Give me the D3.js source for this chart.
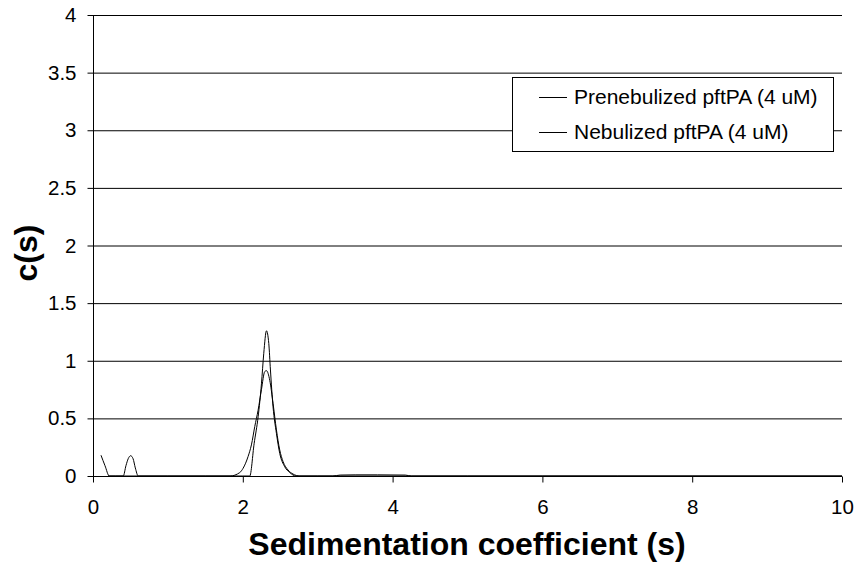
<!DOCTYPE html>
<html><head><meta charset="utf-8">
<script src="https://cdn.jsdelivr.net/npm/d3@7"></script>
<style>body{margin:0;background:#fff}svg{display:block}text{font-family:"Liberation Sans",Arial,sans-serif}</style>
</head><body>
<svg id="c" width="858" height="567"></svg>
<script>
const seriesNames = ["Prenebulized pftPA (4 uM)", "Nebulized pftPA (4 uM)"];
const xTicks = [0, 2, 4, 6, 8, 10];
const yTicks = [0, 0.5, 1, 1.5, 2, 2.5, 3, 3.5, 4];
const preS = [0.107,0.16,0.218,0.3,0.404,0.44,0.47,0.502,0.535,0.565,0.604,1.0,1.5,2.0,2.093,2.151,2.205,2.249,2.28,2.316,2.347,2.369,2.404,2.449,2.493,2.56,2.627,2.71,3.0,5,7,10];
const preC = [0.18,0.09,0.0,0.0,0.0,0.09,0.15,0.176,0.15,0.07,0.0,0.0,0.0,0.0,0.0,0.28,0.515,0.80,1.065,1.26,1.15,0.92,0.60,0.37,0.197,0.08,0.03,0.0,0.0,0,0,0];
const nebS = [0.2,1.0,1.83,1.96,2.004,2.071,2.115,2.16,2.204,2.249,2.293,2.316,2.36,2.404,2.449,2.493,2.538,2.604,2.671,2.76,3.2,3.3,3.5,3.8,4.17,4.25,6,8,10];
const nebC = [0,0,0,0.03,0.067,0.17,0.27,0.43,0.57,0.75,0.906,0.914,0.83,0.63,0.40,0.226,0.124,0.052,0.017,0.0,0.0,0.008,0.01,0.01,0.008,0.0,0,0,0];

const svg = d3.select("#c");
const x = d3.scaleLinear().domain([0,10]).range([93,842]);
const y = d3.scaleLinear().domain([0,4]).range([476,15]);

svg.append("g").selectAll("line").data(yTicks.filter(d=>d>0)).join("line")
  .attr("x1",93).attr("x2",842).attr("y1",d=>y(d)+0.5).attr("y2",d=>y(d)+0.5)
  .attr("stroke","#000").attr("stroke-width",1);

const ya = svg.append("g").attr("transform","translate(93.5,0)")
  .call(d3.axisLeft(y).tickValues(yTicks).tickSize(6).tickPadding(11).tickFormat(d=>String(d)));
ya.select(".domain").attr("d",`M0,${y(4)}V${y(0)}`);
const xa = svg.append("g").attr("transform",`translate(0,${y(0)+0.5})`)
  .call(d3.axisBottom(x).tickValues(xTicks).tickSize(6).tickPadding(17).tickFormat(d=>String(d)));
xa.select(".domain").attr("d",`M93,0H842`);
svg.selectAll(".tick text").attr("font-size",20.5).attr("fill","#000").style("font-family","Liberation Sans, Arial, sans-serif");
svg.selectAll(".domain, .tick line").attr("stroke","#000");

const line = d3.line().x(d=>x(d[0])).y(d=>y(d[1])).curve(d3.curveMonotoneX);
svg.append("path").datum(preS.map((s,i)=>[s,preC[i]])).attr("d",line)
  .attr("fill","none").attr("stroke","#000").attr("stroke-width",1);
svg.append("path").datum(nebS.map((s,i)=>[s,nebC[i]])).attr("d",line)
  .attr("fill","none").attr("stroke","#000").attr("stroke-width",1);

const lg = svg.append("g");
lg.append("rect").attr("x",512.5).attr("y",77.5).attr("width",321).attr("height",74)
  .attr("fill","#fff").attr("stroke","#000");
seriesNames.forEach((n,i)=>{
  const yy = 97 + i*35;
  lg.append("line").attr("x1",539).attr("x2",567).attr("y1",yy+0.5).attr("y2",yy+0.5).attr("stroke","#000");
  lg.append("text").attr("x",574).attr("y",yy).attr("dy","0.35em").attr("font-size",21).text(n);
});

svg.append("text").attr("x",467).attr("y",555).attr("text-anchor","middle")
  .attr("font-size",32).attr("font-weight","bold").text("Sedimentation coefficient (s)");
svg.append("text").attr("transform","translate(37,253) rotate(-90)").attr("text-anchor","middle")
  .attr("font-size",32).attr("font-weight","bold").text("c(s)");
</script>
</body></html>
